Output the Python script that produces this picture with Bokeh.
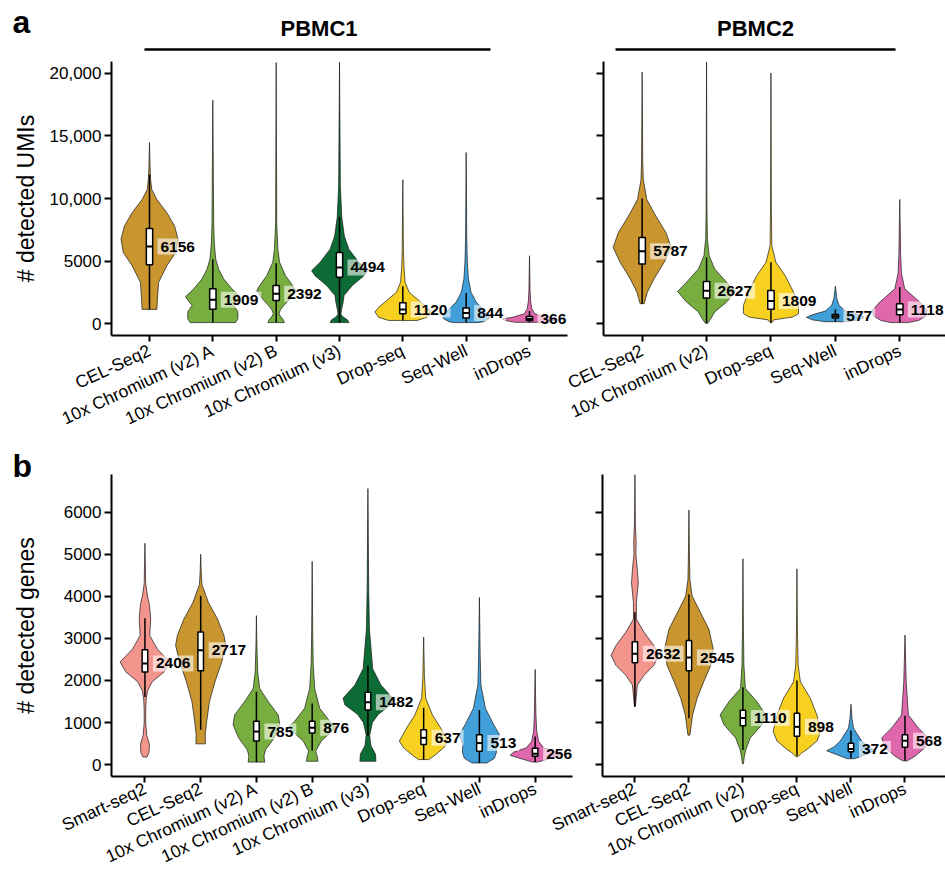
import math
from bokeh.plotting import figure
from bokeh.models import Range1d, FixedTicker, CustomJSTickFormatter, Label
from bokeh.layouts import column, row
from bokeh.embed import file_html
from bokeh.resources import INLINE
from bokeh.core.properties import value

FONT = "Liberation Sans"

# ---------------- data ----------------
method_colors = {
    "Smart-seq2": "#F4958D",
    "CEL-Seq2": "#C8952F",
    "10x Chromium (v2)": "#77AE3F",
    "10x Chromium (v3)": "#0D6B35",
    "Drop-seq": "#F7D020",
    "Seq-Well": "#419FDA",
    "inDrops": "#DF68AC",
}

umi_ticks = [0, 5000, 10000, 15000, 20000]
umi_tick_labels = ["0", "5000", "10,000", "15,000", "20,000"]
gene_ticks = [0, 1000, 2000, 3000, 4000, 5000, 6000]
gene_tick_labels = ["0", "1000", "2000", "3000", "4000", "5000", "6000"]

# --- a, PBMC1: detected UMIs ---
umi1_methods = ["CEL-Seq2", "10x Chromium (v2) A", "10x Chromium (v2) B",
                "10x Chromium (v3)", "Drop-seq", "Seq-Well", "inDrops"]
umi1_median = [6156, 1909, 2392, 4494, 1120, 844, 366]
umi1_q1 = [4710, 1150, 1850, 3700, 790, 450, 250]
umi1_q3 = [7600, 2780, 3040, 5690, 1670, 1250, 560]
umi1_wlo = [1135, 80, 80, 80, 250, 80, 100]
umi1_whi = [11900, 5150, 4820, 8540, 2990, 2450, 1000]
umi1_prof_y = [
    [1135, 2000, 3300, 4630, 5690, 6750, 7800, 8865, 9920, 10714, 11500, 12500, 14470],
    [80, 400, 950, 1450, 2140, 2780, 3570, 4370, 5160, 6500, 8000, 17860],
    [80, 300, 600, 800, 1100, 1450, 1900, 2400, 2650, 3040, 3830, 4900, 5950, 8000, 20870],
    [80, 300, 500, 750, 1100, 1600, 2250, 3040, 3830, 4230, 4900, 5950, 7000, 8500, 11000, 20900],
    [250, 500, 930, 1300, 1720, 2510, 3310, 4500, 6000, 11500],
    [80, 150, 400, 660, 1060, 1720, 2510, 3570, 5000, 7000, 13680],
    [100, 250, 380, 500, 790, 1200, 1800, 2600, 5420],
]
umi1_prof_w = [
    [0.26, 0.28, 0.32, 0.61, 0.92, 1.0, 0.88, 0.61, 0.26, 0.08, 0.04, 0.02, 0],
    [0.8, 0.88, 0.88, 0.73, 0.96, 0.67, 0.38, 0.2, 0.1, 0.05, 0.03, 0],
    [0.29, 0.25, 0.14, 0.1, 0.15, 0.27, 0.45, 0.62, 0.68, 0.58, 0.33, 0.12, 0.06, 0.02, 0],
    [0.33, 0.28, 0.14, 0.05, 0.07, 0.12, 0.16, 0.45, 0.86, 0.98, 0.68, 0.33, 0.17, 0.08, 0.03, 0],
    [0.5, 0.85, 0.98, 0.85, 0.63, 0.22, 0.08, 0.04, 0.02, 0],
    [0.45, 0.6, 0.8, 0.81, 0.64, 0.35, 0.17, 0.08, 0.04, 0.02, 0],
    [0.5, 0.85, 0.95, 0.6, 0.18, 0.08, 0.04, 0.02, 0],
]

# --- a, PBMC2: detected UMIs ---
umi2_methods = ["CEL-Seq2", "10x Chromium (v2)", "Drop-seq", "Seq-Well", "inDrops"]
umi2_median = [5787, 2627, 1809, 577, 1118]
umi2_q1 = [4760, 2040, 1140, 450, 710]
umi2_q3 = [6880, 3360, 2650, 720, 1590]
umi2_wlo = [1590, 30, 60, 150, 80]
umi2_whi = [10000, 5300, 4900, 1120, 2900]
umi2_prof_y = [
    [1590, 2000, 2510, 3570, 4900, 6090, 7280, 8600, 9920, 11500, 13000, 20100],
    [30, 400, 930, 1720, 2570, 3310, 4370, 5420, 6750, 9000, 20900],
    [60, 300, 520, 800, 1450, 2510, 3840, 4900, 6220, 9000, 20030],
    [150, 300, 500, 700, 1000, 1450, 2000, 2990],
    [80, 250, 600, 1060, 1720, 2780, 4000, 5500, 9920],
]
umi2_prof_w = [
    [0.07, 0.12, 0.18, 0.41, 0.76, 1.0, 0.82, 0.47, 0.16, 0.04, 0.02, 0],
    [0.04, 0.15, 0.28, 0.69, 1.0, 0.69, 0.28, 0.09, 0.03, 0.015, 0],
    [0.02, 0.1, 0.75, 0.95, 0.95, 0.78, 0.49, 0.17, 0.03, 0.015, 0],
    [0.35, 0.8, 1.0, 0.8, 0.35, 0.13, 0.05, 0],
    [0.3, 0.65, 0.9, 0.94, 0.69, 0.17, 0.06, 0.03, 0],
]

# --- b, PBMC1: detected genes ---
gene1_methods = ["Smart-seq2", "CEL-Seq2", "10x Chromium (v2) A", "10x Chromium (v2) B",
                 "10x Chromium (v3)", "Drop-seq", "Seq-Well", "inDrops"]
gene1_median = [2406, 2717, 785, 876, 1482, 637, 513, 256]
gene1_q1 = [2200, 2230, 560, 750, 1300, 480, 320, 200]
gene1_q3 = [2730, 3150, 1030, 1030, 1720, 830, 713, 390]
gene1_wlo = [1610, 830, 60, 330, 680, 120, 40, 60]
gene1_whi = [3480, 4010, 1730, 1450, 2350, 1350, 1300, 670]
gene1_prof_y = [
    [180, 280, 480, 700, 1000, 1300, 1550, 1750, 1970, 2200, 2440, 2750, 3070, 3460, 3800, 4010, 4300, 5260],
    [494, 713, 1030, 1500, 1970, 2440, 2830, 3070, 3460, 3850, 4280, 4600, 5000],
    [60, 200, 350, 500, 635, 950, 1180, 1500, 1810, 2200, 2800, 3540],
    [80, 200, 320, 560, 800, 900, 1030, 1340, 1810, 2400, 3200, 4830],
    [80, 250, 450, 700, 1000, 1200, 1420, 1580, 1890, 2280, 3220, 4200, 6560],
    [120, 200, 400, 560, 870, 1180, 1580, 2100, 3030],
    [40, 150, 300, 480, 713, 950, 1340, 1890, 2600, 3970],
    [60, 130, 220, 300, 400, 550, 800, 1200, 2260],
]
gene1_prof_w = [
    [0.08, 0.16, 0.18, 0.07, 0.03, 0.03, 0.05, 0.1, 0.29, 0.76, 0.99, 0.49, 0.19, 0.23, 0.18, 0.1, 0.03, 0],
    [0.19, 0.18, 0.24, 0.35, 0.57, 0.84, 1.0, 0.93, 0.67, 0.31, 0.05, 0.02, 0],
    [0.33, 0.3, 0.36, 0.55, 0.71, 0.93, 0.87, 0.47, 0.13, 0.05, 0.02, 0],
    [0.23, 0.2, 0.14, 0.36, 0.8, 0.93, 0.7, 0.3, 0.1, 0.04, 0.02, 0],
    [0.32, 0.3, 0.12, 0.07, 0.18, 0.42, 0.92, 0.99, 0.52, 0.19, 0.06, 0.03, 0],
    [0.2, 0.4, 0.8, 0.97, 0.68, 0.35, 0.08, 0.03, 0],
    [0.3, 0.6, 0.68, 0.66, 0.8, 0.57, 0.24, 0.06, 0.03, 0],
    [0.1, 0.5, 1.0, 0.85, 0.35, 0.14, 0.06, 0.03, 0],
]

# --- b, PBMC2: detected genes ---
gene2_methods = ["Smart-seq2", "CEL-Seq2", "10x Chromium (v2)", "Drop-seq", "Seq-Well", "inDrops"]
gene2_median = [2632, 2545, 1110, 898, 372, 568]
gene2_q1 = [2420, 2230, 925, 675, 306, 415]
gene2_q3 = [2920, 2950, 1290, 1220, 510, 713]
gene2_wlo = [1380, 1100, 350, 210, 150, 90]
gene2_whi = [3620, 4040, 1840, 2000, 810, 1160]
gene2_prof_y = [
    [1380, 1890, 2120, 2360, 2600, 2830, 3150, 3460, 3850, 4320, 4640, 5000, 5300, 5700, 6890],
    [700, 1180, 1580, 1970, 2360, 2750, 3220, 3620, 4010, 4400, 5000, 6050],
    [20, 200, 360, 635, 950, 1180, 1500, 1810, 2360, 3200, 4890],
    [190, 280, 360, 560, 790, 1180, 1580, 1970, 2360, 3200, 4650],
    [140, 240, 330, 420, 560, 870, 1100, 1435],
    [90, 200, 400, 635, 870, 1180, 1970, 2400, 3080],
]
gene2_prof_w = [
    [0.02, 0.1, 0.37, 0.78, 0.98, 0.78, 0.37, 0.06, 0.06, 0.14, 0.1, 0.04, 0.05, 0.02, 0],
    [0.04, 0.15, 0.34, 0.61, 0.9, 1.0, 0.82, 0.47, 0.13, 0.04, 0.02, 0],
    [0.02, 0.06, 0.12, 0.3, 0.78, 0.94, 0.57, 0.1, 0.04, 0.02, 0],
    [0.04, 0.2, 0.41, 0.82, 0.98, 0.82, 0.55, 0.14, 0.05, 0.02, 0],
    [0.15, 0.6, 1.0, 0.7, 0.44, 0.1, 0.04, 0],
    [0.1, 0.41, 0.82, 0.96, 0.55, 0.14, 0.05, 0.03, 0],
]

# ---------------- styling / layout constants ----------------
HALF = 0.45
BOXW = 0.1


def color_of(name):
    for k, c in method_colors.items():
        if name.startswith(k):
            return c
    return "#999999"


def make_panel(methods, med, q1, q3, wlo, whi, prof_y, prof_w, yr, x_end, ticks, tick_labels,
               width, height, mbl, mbr, mbt, mbb, xlab_standoff, ylabel=None, ylabel_standoff=0):
    n = len(methods)
    p = figure(width=width, height=height, x_range=Range1d(-0.6, x_end),
               y_range=Range1d(*yr), toolbar_location=None, output_backend="svg",
               min_border_left=mbl, min_border_right=mbr, min_border_top=mbt,
               min_border_bottom=mbb)
    idx = list(range(n))
    xs, ys = [], []
    for i in idx:
        right = [i + HALF * w for w in prof_w[i]]
        left = [i - HALF * w for w in prof_w[i]]
        xs.append(right + left[::-1])
        ys.append(list(prof_y[i]) + list(prof_y[i])[::-1])
    p.patches(xs, ys, fill_color=[color_of(m) for m in methods],
              line_color="#1a1a1a", line_width=0.7)
    p.segment(x0=idx, y0=wlo, x1=idx, y1=whi, line_color="black", line_width=1.5)
    p.vbar(x=idx, width=BOXW, bottom=q1, top=q3, fill_color="white",
           line_color="black", line_width=1.5)
    p.segment(x0=[i - BOXW / 2 for i in idx], y0=med, x1=[i + BOXW / 2 for i in idx],
              y1=med, line_color="black", line_width=2)
    p.text(x=idx, y=med, text=[str(m) for m in med], x_offset=8,
           text_align="left", text_baseline="middle", text_font=value(FONT),
           text_font_style="bold", text_font_size=value("15.5px"), text_color="black",
           background_fill_color="white", background_fill_alpha=0.6, padding=3)

    p.xaxis.ticker = FixedTicker(ticks=idx)
    p.xaxis.major_label_overrides = {i: m for i, m in enumerate(methods)}
    p.xaxis.major_label_orientation = math.radians(25)
    p.yaxis.ticker = FixedTicker(ticks=ticks)
    if tick_labels is not None:
        p.yaxis.major_label_overrides = {t: l for t, l in zip(ticks, tick_labels)}
    else:
        p.yaxis.formatter = CustomJSTickFormatter(code="return ''")
    for ax in p.axis:
        ax.axis_line_width = 2
        ax.axis_line_color = "black"
        ax.major_tick_line_width = 2
        ax.major_tick_line_color = "black"
        ax.major_tick_in = 0
        ax.major_tick_out = 7
        ax.minor_tick_line_color = None
        ax.major_label_text_font = FONT
        ax.major_label_text_color = "black"
    p.xaxis.major_label_text_font_size = "17.5px"
    p.xaxis.major_tick_out = 6
    p.xaxis.major_label_standoff = xlab_standoff
    p.yaxis.major_label_text_font_size = "17px"
    p.yaxis.major_label_standoff = 3
    if ylabel:
        p.yaxis.axis_label = ylabel
        p.yaxis.axis_label_text_font = FONT
        p.yaxis.axis_label_text_font_size = "23px"
        p.yaxis.axis_label_text_font_style = "normal"
        p.yaxis.axis_label_text_color = "black"
        p.yaxis.axis_label_standoff = ylabel_standoff
    p.grid.visible = False
    p.outline_line_color = None
    p.background_fill_color = None
    p.border_fill_color = None
    return p


def header(height, y_top):
    h = figure(width=945, height=height, x_range=Range1d(0, 945),
               y_range=Range1d(y_top + height, y_top), x_axis_type=None, y_axis_type=None,
               toolbar_location=None, output_backend="svg", min_border=0)
    h.outline_line_color = None
    h.background_fill_color = None
    h.border_fill_color = None
    return h


# header with panel letter a and the two sample titles
ha = header(61, 0)
ha.add_layout(Label(x=12, y=21, text="a", text_font=FONT, text_font_size="32px",
                    text_font_style="bold", text_baseline="middle", text_color="black"))
ha.add_layout(Label(x=318.5, y=27.5, text="PBMC1", text_font=FONT, text_font_size="22px",
                    text_font_style="bold", text_align="center", text_baseline="middle",
                    text_color="black"))
ha.add_layout(Label(x=755, y=27.5, text="PBMC2", text_font=FONT, text_font_size="22px",
                    text_font_style="bold", text_align="center", text_baseline="middle",
                    text_color="black"))
ha.segment(x0=[144, 615], y0=[49, 49], x1=[490, 895], y1=[49, 49],
           line_color="black", line_width=2.5)

tl = make_panel(umi1_methods, umi1_median, umi1_q1, umi1_q3, umi1_wlo, umi1_whi,
                umi1_prof_y, umi1_prof_w, (-952, 20952), 6.6, umi_ticks, umi_tick_labels,
                580, 379, 111, 13, 0, 103, 8, ylabel="# detected UMIs", ylabel_standoff=8)
tr = make_panel(umi2_methods, umi2_median, umi2_q1, umi2_q3, umi2_wlo, umi2_whi,
                umi2_prof_y, umi2_prof_w, (-952, 20952), 4.71, umi_ticks, None,
                390, 379, 48, 0, 0, 103, 8)
tr.margin = (0, 0, 0, -25)

# header with panel letter b
hb = header(48, 440)
hb.add_layout(Label(x=12, y=465, text="b", text_font=FONT, text_font_size="32px",
                    text_font_style="bold", text_baseline="middle", text_color="black"))

bl = make_panel(gene1_methods, gene1_median, gene1_q1, gene1_q3, gene1_wlo, gene1_whi,
                gene1_prof_y, gene1_prof_w, (-282, 6894), 7.67, gene_ticks, gene_tick_labels,
                580, 404, 111, 8, 0, 99, 5, ylabel="# detected genes", ylabel_standoff=22)
br = make_panel(gene2_methods, gene2_median, gene2_q1, gene2_q3, gene2_wlo, gene2_whi,
                gene2_prof_y, gene2_prof_w, (-282, 6894), 5.75, gene_ticks, None,
                405, 404, 62, 0, 0, 99, 5)
br.margin = (0, 0, 0, -40)

bottom_row = row(bl, br)
bottom_row.margin = (-14, 0, 0, 0)

layout = column(ha, row(tl, tr), hb, bottom_row)

open("out.html", "w").write(file_html(layout, INLINE))
